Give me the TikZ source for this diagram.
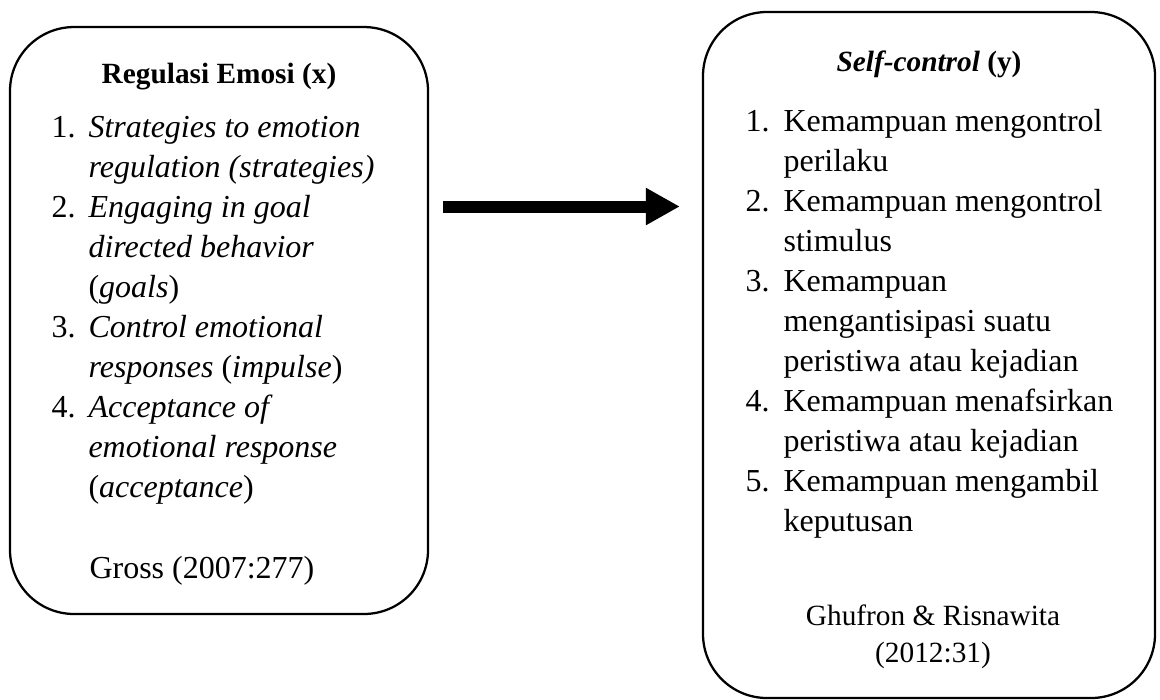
\documentclass[tikz,border=0pt]{standalone}
\usepackage{fontspec}
\setmainfont{Liberation Serif}
\usetikzlibrary{arrows.meta,positioning}

\tikzset{
  frame/.style={draw, line width=0.85pt, rounded corners=24pt},
  head/.style={font=\fontsize{11}{13}\selectfont\bfseries, anchor=base, inner sep=0pt},
  entry/.style={anchor=base west, inner sep=0pt},
  cite/.style={font=\fontsize{11}{13}\selectfont, anchor=base, inner sep=0pt},
  bigarrow/.style={line width=4.5pt, -{Triangle[length=12.75pt,width=13.1pt]}}
}

\begin{document}
\begin{tikzpicture}[x=0.375pt, y=-0.375pt, font=\fontsize{12}{14}\selectfont]
            \useasboundingbox (0,0) rectangle (1160,699);

            % Boxes
            \node[frame, minimum width=156.75pt, minimum height=220.1pt] (lbox) at (219,320.5) {};
            \node[frame, minimum width=169.5pt, minimum height=257.25pt] (rbox) at (929,355) {};

            % Titles
            \node[head] (ltitle) at (219,83) {Regulasi Emosi (x)};
            \node[head] (rtitle) at (929,71) {\textit{Self-control} (y)};

            % Left list
            \foreach \n/\i in {1/0, 2/2, 3/5, 4/7}
                \node[entry] (lnum\n) at (51,137+40*\i) {\n.};
            \foreach \txt [count=\i from 0] in {\textit{Strategies to emotion}, \textit{regulation (strategies)},
                \textit{Engaging in goal}, \textit{directed behavior}, (\textit{goals}),
                \textit{Control emotional}, \textit{responses} (\textit{impulse}),
                \textit{Acceptance of}, \textit{emotional response}, (\textit{acceptance})}
                \node[entry] (lline\i) at (88,137+40*\i) {\txt};
            \node[entry] (lcite) at (89,578) {Gross (2007:277)};

            % Right list
            \foreach \n/\i in {1/0, 2/2, 3/4, 4/7, 5/9}
                \node[entry] (rnum\n) at (745,131+40*\i) {\n.};
            \foreach \txt [count=\i from 0] in {Kemampuan mengontrol, perilaku,
                Kemampuan mengontrol, stimulus,
                Kemampuan, mengantisipasi suatu, peristiwa atau kejadian,
                Kemampuan menafsirkan, peristiwa atau kejadian,
                Kemampuan mengambil, keputusan}
                \node[entry] (rline\i) at (783,131+40*\i) {\txt};
            \node[cite] (rcite) at (933,625) {Ghufron \& Risnawita};
            \node[cite] (ryear) at (933,662) {(2012:31)};

            % Arrow
            \coordinate (arrowy) at (0,206.5);
            \draw[bigarrow, shorten <=5.25pt, shorten >=8.25pt] (lbox.east |- arrowy) -- (rbox.west |- arrowy);
\end{tikzpicture}
\end{document}
